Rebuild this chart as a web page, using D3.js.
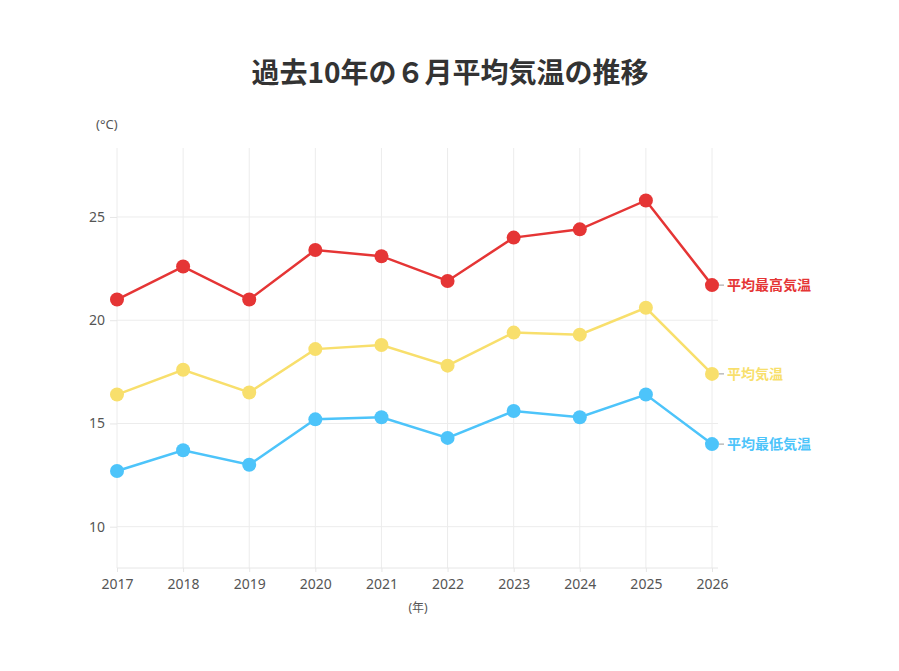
<!DOCTYPE html>
<html>
<head>
<meta charset="utf-8">
<script src="https://cdn.jsdelivr.net/npm/d3@7"></script>
<style>
  body { margin: 0; background: #fff; }
  text { font-family: "Noto Sans", "Noto Sans CJK JP", sans-serif; }
</style>
</head>
<body>
<svg id="chart" width="899" height="671"></svg>
<script>
// data
let years = [2017, 2018, 2019, 2020, 2021, 2022, 2023, 2024, 2025, 2026];
let maxTemp = [21.0, 22.6, 21.0, 23.4, 23.1, 21.9, 24.0, 24.4, 25.8, 21.7];
let avgTemp = [16.4, 17.6, 16.5, 18.6, 18.8, 17.8, 19.4, 19.3, 20.6, 17.4];
let minTemp = [12.7, 13.7, 13.0, 15.2, 15.3, 14.3, 15.6, 15.3, 16.4, 14.0];
let seriesNames = ['平均最高気温', '平均気温', '平均最低気温'];
let seriesColors = ['#e53535', '#f8df6c', '#4dc4fa'];
let yTicks = [10, 15, 20, 25];

let series = [maxTemp, avgTemp, minTemp].map(function (vals, i) {
  return {
    name: seriesNames[i],
    color: seriesColors[i],
    values: vals.map(function (v, j) { return { year: years[j], value: v }; })
  };
});

let svg = d3.select('#chart');

let plotLeft = 117, plotRight = 718, plotTop = 148, plotBottom = 568;

let x = d3.scalePoint()
  .domain(years)
  .range([117, 712]);

let y = d3.scaleLinear()
  .domain([8, 28.34])
  .range([plotBottom, plotTop]);

// title
svg.append('text')
  .attr('x', 450)
  .attr('y', 83)
  .attr('text-anchor', 'middle')
  .style('font-family', '"Noto Sans CJK JP", sans-serif')
  .style('font-size', '28px')
  .style('font-weight', 'bold')
  .style('fill', '#333')
  .text('過去10年の６月平均気温の推移');

// grid lines
svg.append('g')
  .selectAll('line')
  .data(yTicks)
  .join('line')
  .attr('x1', plotLeft)
  .attr('x2', plotRight)
  .attr('y1', d => y(d))
  .attr('y2', d => y(d))
  .attr('stroke', '#ececec');

svg.append('g')
  .selectAll('line')
  .data(years)
  .join('line')
  .attr('x1', d => x(d))
  .attr('x2', d => x(d))
  .attr('y1', plotTop)
  .attr('y2', plotBottom)
  .attr('stroke', '#ececec');

// axes
let xAxis = svg.append('g')
  .attr('transform', 'translate(0,' + plotBottom + ')')
  .call(d3.axisBottom(x).tickSize(4).tickPadding(4).tickFormat(d3.format('d')));
xAxis.select('.domain').attr('d', 'M' + plotLeft + ',0H' + plotRight).attr('stroke', '#e6e6e6');
xAxis.selectAll('.tick line').attr('stroke', '#e6e6e6');
xAxis.selectAll('.tick text')
  .style('font-size', '14px')
  .style('fill', '#555')
  .attr('dy', '0.9em');

let yAxis = svg.append('g')
  .attr('transform', 'translate(' + plotLeft + ',0)')
  .call(d3.axisLeft(y).tickValues(yTicks).tickSize(7).tickPadding(5));
yAxis.select('.domain').remove();
yAxis.selectAll('.tick line').attr('stroke', '#e6e6e6');
yAxis.selectAll('.tick text')
  .style('font-size', '14px')
  .style('fill', '#555');

// axis titles
svg.append('text')
  .attr('x', 96)
  .attr('y', 129)
  .style('font-size', '13px')
  .style('fill', '#555')
  .text('(°C)');

svg.append('text')
  .attr('x', 418)
  .attr('y', 612)
  .attr('text-anchor', 'middle')
  .style('font-size', '12px')
  .style('fill', '#555')
  .text('(年)');

// lines + points
let line = d3.line()
  .x(d => x(d.year))
  .y(d => y(d.value));

let groups = svg.append('g')
  .selectAll('g')
  .data(series)
  .join('g');

groups.append('path')
  .attr('d', d => line(d.values))
  .attr('fill', 'none')
  .attr('stroke', d => d.color)
  .attr('stroke-width', 2.5);

groups.selectAll('circle')
  .data(d => d.values.map(v => Object.assign({ color: d.color }, v)))
  .join('circle')
  .attr('cx', d => x(d.year))
  .attr('cy', d => y(d.value))
  .attr('r', 7)
  .attr('fill', d => d.color);

// end labels
groups.each(function (d) {
  let last = d.values[d.values.length - 1],
      lx = x(last.year),
      ly = y(last.value),
      g = d3.select(this);

  g.append('line')
    .attr('x1', lx + 7)
    .attr('x2', lx + 12)
    .attr('y1', ly)
    .attr('y2', ly)
    .attr('stroke', '#999');

  g.append('text')
    .attr('x', lx + 15)
    .attr('y', ly)
    .attr('dy', '0.35em')
    .style('font-family', '"Noto Sans CJK JP", sans-serif')
    .style('font-size', '14px')
    .style('font-weight', 'bold')
    .style('fill', d.color)
    .text(d.name);
});
</script>
</body>
</html>
